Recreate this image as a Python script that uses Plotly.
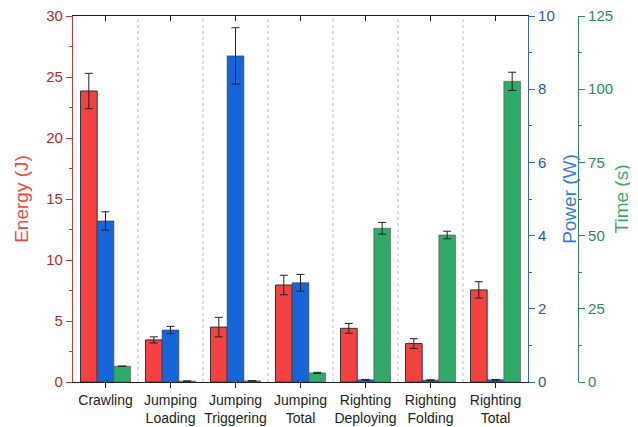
import plotly.graph_objects as go

categories = ["Crawling", "Jumping<br>Loading", "Jumping<br>Triggering", "Jumping<br>Total",
              "Righting<br>Deploying", "Righting<br>Folding", "Righting<br>Total"]
energy = [23.85, 3.45, 4.5, 7.95, 4.4, 3.15, 7.55]
energy_err = [1.45, 0.25, 0.8, 0.8, 0.4, 0.4, 0.67]
power = [4.4, 1.42, 8.91, 2.71, 0.06, 0.05, 0.06]
power_err = [0.25, 0.1, 0.77, 0.23, 0.01, 0.01, 0.01]
time_s = [5.4, 0.3, 0.4, 3.1, 52.5, 50.2, 102.7]
time_err = [0.0, 0.05, 0.05, 0.2, 2.0, 1.3, 3.1]

RED, BLUE, GREEN = "#F44242", "#1666DA", "#2FAA69"
FONT = "Liberation Sans, Arial, sans-serif"

fig = go.Figure()
err_style = dict(type="data", color="#222222", thickness=1, width=4)
fig.add_bar(x=categories, y=energy, name="Energy", offsetgroup="e", yaxis="y",
            marker=dict(color=RED, line=dict(color="#333333", width=1)),
            error_y=dict(array=energy_err, **err_style))
fig.add_bar(x=categories, y=power, name="Power", offsetgroup="p", yaxis="y2",
            marker=dict(color=BLUE, line=dict(color="#333333", width=0.6)),
            error_y=dict(array=power_err, **err_style))
fig.add_bar(x=categories, y=time_s, name="Time", offsetgroup="t", yaxis="y3",
            marker=dict(color=GREEN, line=dict(color="#555555", width=0.6)),
            error_y=dict(array=time_err, **err_style))
# invisible trace for top mirrored axis
fig.add_scatter(x=categories, y=[None] * len(categories), xaxis="x2", yaxis="y",
                showlegend=False, hoverinfo="skip")

# dashed separators between groups
for i in range(len(categories) - 1):
    fig.add_shape(type="line", xref="x", yref="paper", x0=i + 0.5, x1=i + 0.5, y0=0, y1=1,
                  line=dict(color="#BBBBBB", width=1, dash="dot"), layer="below")

xdom = [0, 455 / 555]
fig.update_layout(
    width=630, height=419, margin=dict(l=65, r=10, t=8, b=45),
    plot_bgcolor="white", paper_bgcolor="white",
    barmode="group", bargap=0.23, bargroupgap=0, showlegend=False,
    font=dict(family=FONT, size=13, color="#222222"),
    xaxis=dict(domain=xdom, showline=True, linecolor="#222222", linewidth=1.2,
               ticks="outside", ticklen=5, tickcolor="#222222", automargin=False,
               tickfont=dict(size=14, color="#222222"), showgrid=False,
               ticklabeloverflow="allow"),
    xaxis2=dict(domain=xdom, overlaying="x", side="top", matches="x", showline=True,
                linecolor="#222222", linewidth=1.2, ticks="inside", ticklen=5,
                tickcolor="#222222", showticklabels=False, showgrid=False, automargin=False),
    yaxis=dict(range=[0, 30], dtick=5, showline=True, linecolor="#C0393B", linewidth=1.2,
               ticks="outside", ticklen=6, tickcolor="#C0393B", automargin=False,
               ticklabeloverflow="allow",
               minor=dict(dtick=2.5, ticks="outside", ticklen=3, tickcolor="#C0393B"),
               tickfont=dict(size=15, color="#B22A2A"), showgrid=False, zeroline=False,
               title=dict(text="Energy (J)", font=dict(size=19, color="#F04A4A"), standoff=12)),
    yaxis2=dict(range=[0, 10], dtick=2, overlaying="y", side="right", anchor="x",
                showline=True, linecolor="#3565B5", linewidth=1.2, automargin=False,
                ticks="outside", ticklen=6, tickcolor="#3565B5", ticklabeloverflow="allow",
                minor=dict(dtick=1, ticks="outside", ticklen=3, tickcolor="#3565B5"),
                tickfont=dict(size=15, color="#2A5AAA"), showgrid=False, zeroline=False,
                title=dict(text="Power (W)", font=dict(size=19, color="#3B78DD"), standoff=8)),
    yaxis3=dict(range=[0, 125], dtick=25, overlaying="y", side="right", anchor="free",
                position=505 / 555, automargin=False, ticklabeloverflow="allow",
                showline=True, linecolor="#2E8B57", linewidth=1.2,
                ticks="outside", ticklen=6, tickcolor="#2E8B57",
                minor=dict(dtick=12.5, ticks="outside", ticklen=3, tickcolor="#2E8B57"),
                tickfont=dict(size=15, color="#2E8B57"), showgrid=False, zeroline=False,
                title=dict(text="Time (s)", font=dict(size=19, color="#3DAA6A"), standoff=2)),
)

fig.write_html("out.html")
